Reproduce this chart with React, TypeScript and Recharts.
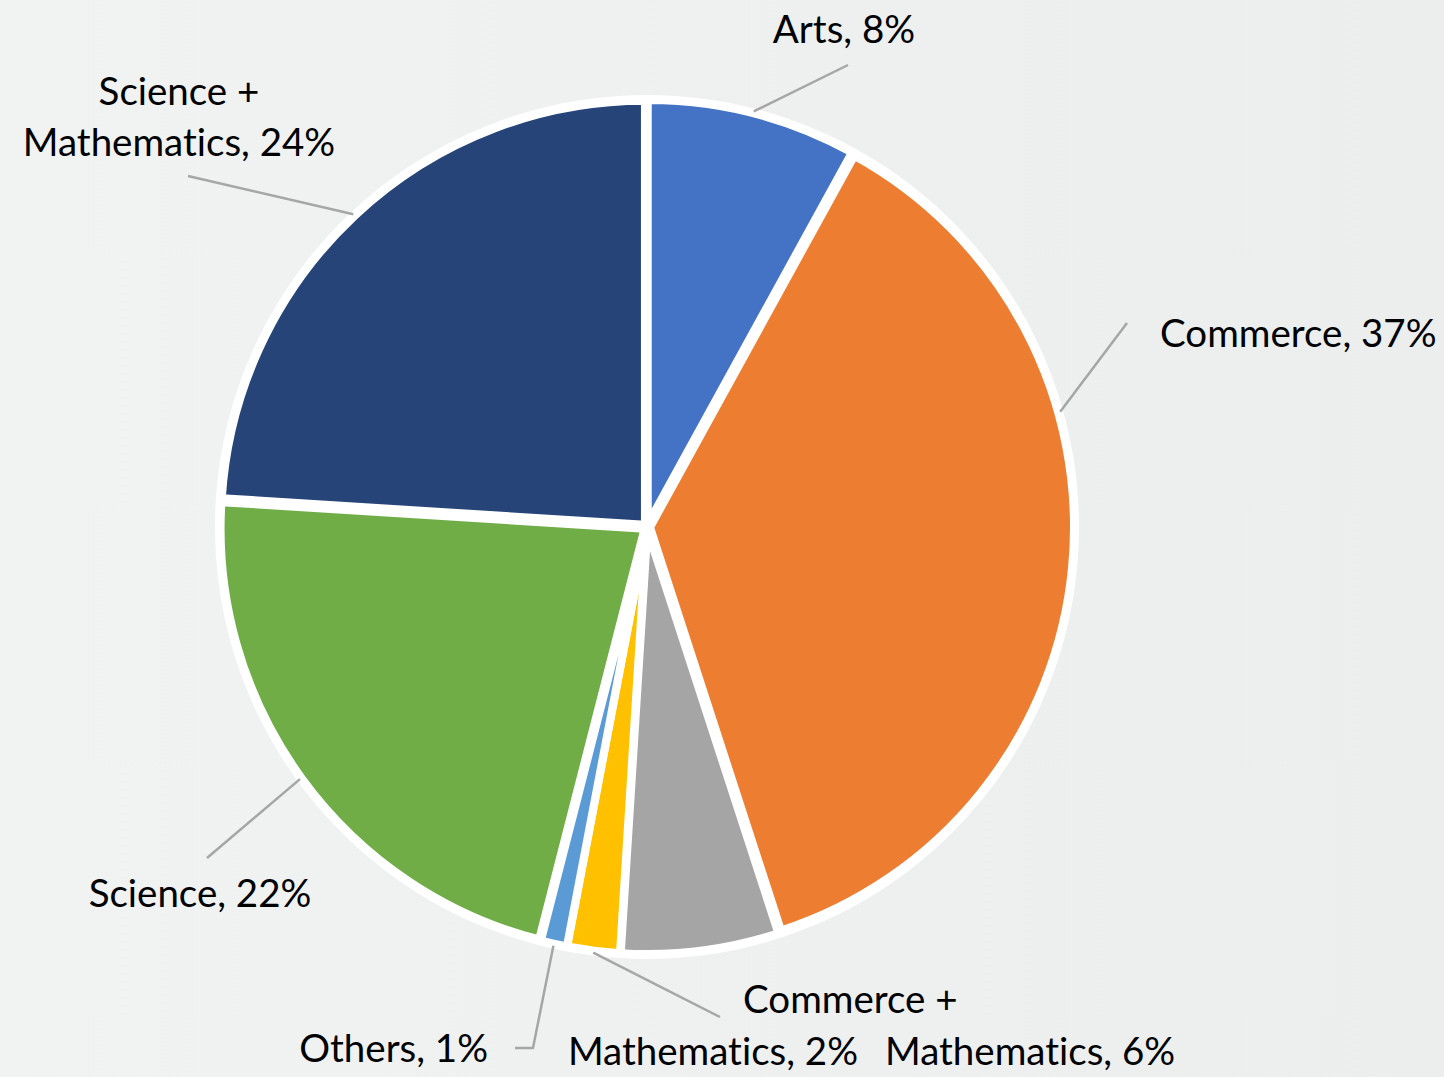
import React from 'react';
import { PieChart, Pie, Cell, Sector } from 'recharts';

const categories = [
  'Arts',
  'Commerce',
  'Mathematics',
  'Commerce + Mathematics',
  'Others',
  'Science',
  'Science + Mathematics',
];
const shares = [8, 37, 6, 2, 1, 22, 24];
const sliceColors = ['#4472C4', '#ED7D31', '#A5A5A5', '#FFC000', '#5B9BD5', '#70AD47', '#264478'];

const data = categories.map((name, i) => ({ name, value: shares[i] }));
const disk = [{ name: 'disk', value: 1 }];

const CX = 647;
const CY = 527;
const R = 424;
const EXPLODE = 3;
const FONT = 'Lato, "Open Sans", sans-serif';

type LineSpec = { dx: number; dy: number; anchor: 'start' | 'middle' | 'end' };
type LabelSpec = { attachAngle?: number; path: [number, number][]; lines: LineSpec[] };

// label layout, offsets relative to the pie centre supplied by Recharts
const LABEL_LAYOUT: Record<string, LabelSpec> = {
  Arts: { path: [[201, -462]], lines: [{ dx: 197, dy: -484, anchor: 'middle' }] },
  Commerce: { attachAngle: 15.6, path: [[480, -204]], lines: [{ dx: 513, dy: -180, anchor: 'start' }] },
  Mathematics: { path: [], lines: [{ dx: 238, dy: 538, anchor: 'start' }] },
  'Commerce + Mathematics': {
    path: [[73, 490]],
    lines: [
      { dx: 96, dy: 486, anchor: 'start' },
      { dx: 211, dy: 538, anchor: 'end' },
    ],
  },
  Others: { path: [[-114, 521], [-132, 521]], lines: [{ dx: -159, dy: 535, anchor: 'end' }] },
  Science: { path: [[-440, 331]], lines: [{ dx: -447, dy: 380, anchor: 'middle' }] },
  'Science + Mathematics': {
    path: [[-459, -351]],
    lines: [
      { dx: -468, dy: -422, anchor: 'middle' },
      { dx: -468, dy: -371, anchor: 'middle' },
    ],
  },
};

function labelLines(name: string, value: number): string[] {
  const text = `${name}, ${value}%`;
  const idx = text.indexOf(' + ');
  if (idx >= 0) return [text.slice(0, idx + 2), text.slice(idx + 3)];
  return [text];
}

const renderLabel = (props: any) => {
  const { cx, cy, midAngle, outerRadius, name, value } = props;
  const spec = LABEL_LAYOUT[name];
  if (!spec) return null;
  const a = ((spec.attachAngle ?? midAngle) * Math.PI) / 180;
  const sx = cx + (outerRadius + 5) * Math.cos(a);
  const sy = cy - (outerRadius + 5) * Math.sin(a);
  const pts = [[sx, sy], ...spec.path.map(([dx, dy]) => [cx + dx, cy + dy])];
  const texts = labelLines(name, value);
  return (
    <g>
      {spec.path.length > 0 && (
        <polyline
          points={pts.map((p) => p.join(',')).join(' ')}
          fill="none"
          stroke="#A6A6A6"
          strokeWidth={2.5}
        />
      )}
      {texts.map((t, i) => {
        const l = spec.lines[i];
        return (
          <text
            key={i}
            x={cx + l.dx}
            y={cy + l.dy}
            textAnchor={l.anchor}
            fill="#000000"
            stroke="none"
            fontSize={38.5}
            fontFamily={FONT}
            style={{ fontVariantLigatures: 'none', fontFeatureSettings: '"liga" 0' }}
          >
            {t}
          </text>
        );
      })}
    </g>
  );
};

const ExplodedSector = (props: any) => {
  const a = (props.midAngle * Math.PI) / 180;
  return (
    <Sector
      {...props}
      cx={props.cx + EXPLODE * Math.cos(a)}
      cy={props.cy - EXPLODE * Math.sin(a)}
    />
  );
};

export default function App() {
  return (
    <div
      style={{
        position: 'absolute',
        left: 0,
        top: 0,
        width: 1444,
        height: 1077,
        background: 'linear-gradient(to right, #F1F2F2, #ECEDED)',
      }}
    >
      <PieChart width={1444} height={1077} margin={{ top: 0, right: 0, bottom: 0, left: 0 }}>
        <Pie
          data={disk}
          dataKey="value"
          nameKey="name"
          cx={CX}
          cy={CY}
          outerRadius={R + 8}
          fill="#FFFFFF"
          stroke="none"
          label={false}
          labelLine={false}
          isAnimationActive={false}
        />
        <Pie
          data={data}
          dataKey="value"
          nameKey="name"
          cx={CX}
          cy={CY}
          outerRadius={R}
          startAngle={90}
          endAngle={-270}
          stroke="#FFFFFF"
          strokeWidth={8}
          shape={ExplodedSector}
          label={renderLabel}
          labelLine={false}
          isAnimationActive={false}
        >
          {data.map((d, i) => (
            <Cell key={d.name} fill={sliceColors[i]} />
          ))}
        </Pie>
      </PieChart>
    </div>
  );
}
